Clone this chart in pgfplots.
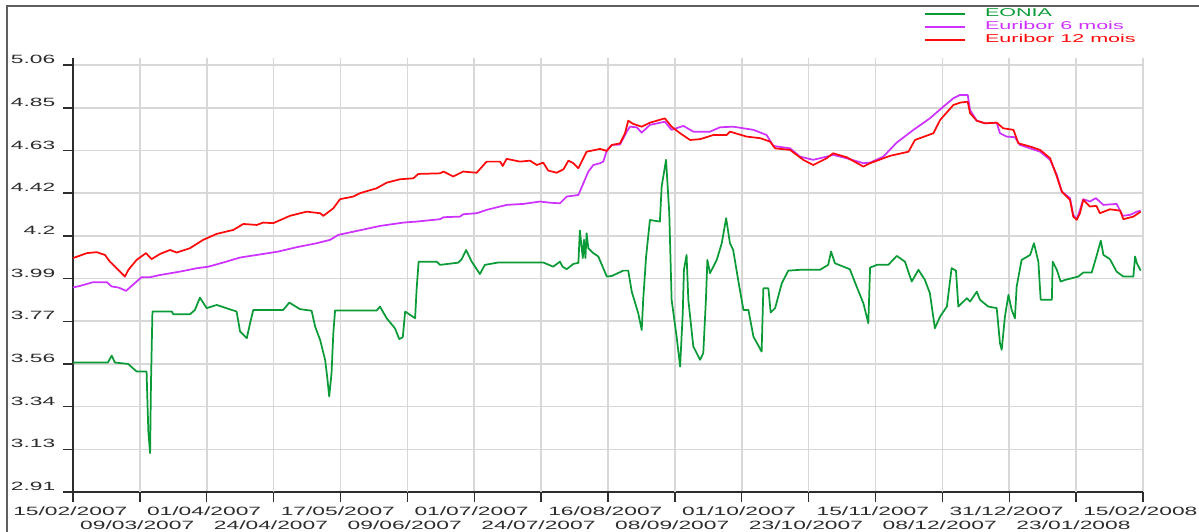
\documentclass[border=0pt]{standalone}
\usepackage{fontspec}
\setmainfont{Liberation Sans}[FakeStretch=1.9]
\usepackage{graphicx}
\usepackage{pgfplots}
\pgfplotsset{compat=1.18}
\definecolor{eonia}{RGB}{10,155,55}
\definecolor{eur6}{RGB}{205,50,255}
\definecolor{eur12}{RGB}{255,10,10}
\definecolor{gridc}{RGB}{216,216,216}
\definecolor{axc}{RGB}{45,45,45}
\definecolor{framec}{RGB}{95,95,95}
\begin{document}
\begin{tikzpicture}[font=\fontsize{9}{10.8}\selectfont]
\begin{axis}[
  scale only axis,
  width=802.5pt, height=325.5pt,
  xmin=0, xmax=365,
  ymin=2.91, ymax=5.096,
  axis x line*=bottom, axis y line*=left,
  axis line style={-, line width=1.1pt, axc},
  tick align=outside,
  major tick length=7.5pt,
  tick style={axc, line width=1.1pt},
  grid=major,
  major grid style={gridc, line width=1.2pt},
  xtick={0,45.625,91.25,136.875,182.5,228.125,273.75,319.375,365},
  xticklabels={15/02/2007,01/04/2007,17/05/2007,01/07/2007,16/08/2007,01/10/2007,15/11/2007,31/12/2007,15/02/2008},
  extra x ticks={22.8125,68.4375,114.0625,159.6875,205.3125,250.9375,296.5625,342.1875},
  extra x tick labels={09/03/2007,24/04/2007,09/06/2007,24/07/2007,08/09/2007,23/10/2007,08/12/2007,23/01/2008},
  extra x tick style={tick label style={yshift=-10.5pt}},
  ytick={2.91,3.125,3.34,3.555,3.77,3.985,4.2,4.415,4.63,4.845,5.06},
  yticklabels={2.91,3.13,3.34,3.56,3.77,3.99,4.2,4.42,4.63,4.85,5.06},
  yticklabel style={anchor=base east, yshift=1pt, xshift=-2.25pt},
  xticklabel style={xshift=-2pt},
  tick label style={text=axc},
  clip=false,
  legend style={at={(rel axis cs:0.796,1.1175)}, anchor=north west, draw=none, fill=none,
    inner sep=0pt, row sep=0pt, column sep=15pt, font=\fontsize{8.5}{10}\selectfont,
    nodes={inner sep=0pt, text height=7pt, text depth=2.75pt, anchor=west}},
  legend cell align=left,
  every axis plot/.append style={line width=1.3pt, line join=round},
]
\addplot[eonia, legend image code/.code={\fill[eonia, draw=none] (0pt,-0.6pt) rectangle (30pt,0.6pt);}] coordinates {
(0,3.562)(11.9,3.562)(13.2,3.597)(14.3,3.562)(18.8,3.555)(21.7,3.517)(25.1,3.517)(25.3,3.411)(25.7,3.215)(26.3,3.106)(26.6,3.458)(27.1,3.819)
(33.7,3.819)(34.2,3.805)(39.9,3.805)(41.6,3.827)(43.3,3.889)(45.6,3.836)(49.0,3.852)(51.3,3.841)(55.8,3.819)(57.0,3.718)(59.3,3.685)(60.4,3.760)(61.5,3.827)
(71.7,3.827)(73.8,3.864)(77.4,3.831)(81.4,3.823)(82.6,3.743)(84.3,3.676)(86.0,3.576)(86.7,3.491)(87.4,3.391)(88.2,3.509)(88.8,3.710)(89.4,3.824)
(103.6,3.824)(104.7,3.844)(107.0,3.785)(109.8,3.735)(111.3,3.680)(112.5,3.690)(113.3,3.819)(116.7,3.785)(117.2,3.928)(117.9,4.070)
(124.1,4.070)(125.2,4.054)(131.4,4.065)(132.6,4.083)(134.1,4.129)(136.0,4.070)(138.8,4.008)(140.5,4.054)(145.1,4.066)
(160.4,4.066)(163.8,4.045)(166.1,4.070)(167.0,4.045)(168.4,4.032)(170.7,4.059)(172.4,4.064)(172.9,4.227)(173.9,4.088)(174.3,4.180)(174.8,4.088)(175.2,4.213)(175.8,4.138)(177.5,4.113)(179.2,4.096)
(182.1,3.995)(183.8,3.998)(187.7,4.025)(189.4,4.025)(190.6,3.919)(192.8,3.811)(194.0,3.726)(194.5,3.878)(195.5,4.096)(196.8,4.280)
(200.2,4.272)(200.8,4.448)(202.3,4.583)(203.4,4.314)(204.2,3.878)(205.9,3.693)(207.1,3.542)(208.0,3.811)(208.4,4.029)(209.3,4.104)(209.9,3.878)
(211.6,3.643)(213.9,3.576)(215.0,3.609)(215.9,3.878)(216.4,4.079)(217.3,4.012)(219.6,4.079)(221.3,4.163)(222.8,4.289)(224.1,4.163)(225.2,4.129)
(226.9,3.978)(228.7,3.827)(230.4,3.827)(232.1,3.693)(234.9,3.617)(235.5,3.936)(237.2,3.936)(238.0,3.814)(239.5,3.836)(241.8,3.962)(244.0,4.025)
(248.0,4.029)(254.8,4.029)(257.6,4.054)(258.6,4.121)(259.9,4.062)(265.0,4.032)(267.3,3.945)(269.6,3.861)(271.3,3.760)(271.9,4.040)
(274.2,4.054)(278.1,4.054)(281.0,4.099)(283.8,4.070)(286.1,3.970)(288.4,4.029)(290.6,3.978)(292.3,3.911)(294.0,3.735)(295.8,3.794)(298.1,3.844)
(299.7,4.037)(301.2,4.025)(302.0,3.844)(304.9,3.886)(306.0,3.869)(308.3,3.919)(309.4,3.878)(312.2,3.844)(315.1,3.836)(316.2,3.660)(316.8,3.626)
(317.9,3.794)(319.1,3.903)(320.2,3.827)(321.3,3.785)(321.9,3.945)(323.6,4.079)(326.5,4.104)(327.8,4.163)(329.3,4.070)(330.1,3.878)
(333.9,3.878)(334.2,4.070)(335.6,4.029)(336.9,3.970)(338.4,3.978)(342.9,3.995)(344.6,4.015)(347.5,4.015)(349.1,4.096)(350.6,4.176)(351.5,4.104)
(353.7,4.083)(356.0,4.020)(358.3,3.995)(361.7,3.995)(362.3,4.096)(362.9,4.062)(364.2,4.025)
};
\addlegendentry[text=eonia]{EONIA}
\addplot[eur6, legend image code/.code={\fill[eur6, draw=none] (0pt,-0.6pt) rectangle (30pt,0.6pt);}] coordinates {
(0,3.940)(2.4,3.948)(6.9,3.967)(11.5,3.967)(13.2,3.945)(15.5,3.940)(18.1,3.923)(20.0,3.948)(23.4,3.992)(26.3,3.992)(29.7,4.003)(36.5,4.020)
(42.2,4.037)(46.2,4.045)(51.3,4.066)(57.0,4.091)(62.7,4.104)(70.0,4.121)(76.3,4.143)(83.1,4.163)(87.7,4.180)(90.5,4.205)(95.6,4.221)
(104.7,4.250)(112.7,4.267)(117.2,4.272)(125.2,4.284)(126.4,4.294)(132.0,4.297)(133.1,4.309)(137.7,4.314)(141.1,4.331)(147.9,4.356)
(153.6,4.361)(159.3,4.373)(162.7,4.367)(166.1,4.364)(168.4,4.398)(172.4,4.406)(174.1,4.465)(175.8,4.524)(177.5,4.557)(179.8,4.566)
(180.9,4.574)(182.1,4.630)(183.8,4.658)(186.6,4.660)(188.9,4.725)(190.0,4.750)(192.3,4.747)(194.0,4.720)(196.8,4.759)(201.9,4.775)
(204.2,4.734)(208.2,4.754)(211.6,4.725)(217.3,4.725)(220.7,4.747)(225.2,4.750)(232.1,4.734)(236.6,4.708)(238.9,4.653)(244.6,4.641)
(248.0,4.599)(252.5,4.583)(257.1,4.599)(259.3,4.608)(263.9,4.591)(269.6,4.566)(271.9,4.569)(276.4,4.599)(281.0,4.670)(286.7,4.734)
(292.3,4.792)(296.9,4.851)(300.3,4.893)(302.6,4.910)(305.2,4.910)(306.0,4.834)(308.3,4.780)(311.1,4.767)(315.1,4.770)(316.2,4.717)
(318.5,4.700)(321.3,4.697)(323.0,4.658)(326.5,4.641)(329.9,4.624)(333.3,4.583)(335.6,4.507)(337.3,4.423)(340.1,4.390)(341.2,4.306)
(342.4,4.284)(343.5,4.331)(344.6,4.385)(346.9,4.373)(348.9,4.390)(351.5,4.356)(356.0,4.361)(358.1,4.301)(360.6,4.306)(362.9,4.322)(364.2,4.327)
};
\addlegendentry[text=eur6]{Euribor 6 mois}
\addplot[eur12, legend image code/.code={\fill[eur12, draw=none] (0pt,-0.6pt) rectangle (30pt,0.6pt);}] coordinates {
(0,4.088)(4.7,4.113)(8.1,4.118)(10.9,4.104)(12.6,4.070)(14.9,4.037)(17.7,3.995)(18.9,4.029)(21.7,4.079)(24.9,4.113)(26.8,4.083)(29.7,4.109)
(33.1,4.129)(35.4,4.116)(39.9,4.138)(44.4,4.180)(49.0,4.210)(54.7,4.230)(58.1,4.260)(62.7,4.255)(64.9,4.267)(68.3,4.264)(74.0,4.301)
(79.7,4.322)(84.3,4.314)(85.4,4.301)(88.8,4.339)(91.1,4.385)(95.6,4.398)(97.9,4.415)(103.6,4.440)(107.0,4.468)(111.5,4.485)(116.1,4.490)
(117.8,4.512)(125.2,4.515)(126.4,4.524)(129.7,4.499)(133.1,4.524)(137.7,4.518)(141.1,4.574)(145.7,4.574)(146.6,4.552)(147.9,4.588)
(152.5,4.574)(155.9,4.579)(158.2,4.557)(160.4,4.569)(162.1,4.529)(165.0,4.518)(167.3,4.535)(169.0,4.579)(170.7,4.566)(172.4,4.541)
(175.2,4.624)(179.8,4.638)(182.1,4.628)(183.8,4.658)(186.6,4.666)(188.3,4.717)(189.4,4.780)(191.1,4.764)(194.0,4.750)(196.8,4.770)
(201.9,4.792)(204.2,4.750)(207.1,4.717)(210.5,4.683)(213.9,4.687)(218.4,4.708)(223.0,4.708)(224.1,4.725)(229.8,4.700)(234.4,4.692)
(237.8,4.675)(239.5,4.641)(244.6,4.633)(249.1,4.583)(252.5,4.557)(257.1,4.591)(259.3,4.616)(263.9,4.596)(269.6,4.549)(271.9,4.566)
(278.7,4.603)(285.0,4.624)(287.2,4.683)(293.5,4.717)(295.8,4.784)(300.3,4.859)(302.6,4.871)(305.2,4.876)(306.0,4.818)(308.3,4.780)
(311.1,4.767)(315.1,4.770)(317.3,4.742)(320.8,4.734)(322.5,4.666)(326.5,4.650)(329.9,4.633)(333.3,4.591)(335.6,4.499)(337.3,4.423)
(340.1,4.381)(341.2,4.297)(342.4,4.281)(343.5,4.314)(344.6,4.381)(346.9,4.348)(349.1,4.351)(350.3,4.314)(353.7,4.334)(357.2,4.327)
(358.3,4.284)(361.7,4.297)(364.2,4.322)
};
\addlegendentry[text=eur12]{Euribor 12 mois}
\draw[framec, line width=1.5pt] (rel axis cs:-0.0617,-0.0922) -- (rel axis cs:-0.0617,1.1198) -- (rel axis cs:1.0523,1.1198);
\coordinate (bbsw) at (rel axis cs:-0.06822,-0.09217);
\coordinate (bbne) at (rel axis cs:1.05234,1.1336);
\end{axis}
\pgfresetboundingbox
\path[use as bounding box] (bbsw) rectangle (bbne);
\end{tikzpicture}
\end{document}
